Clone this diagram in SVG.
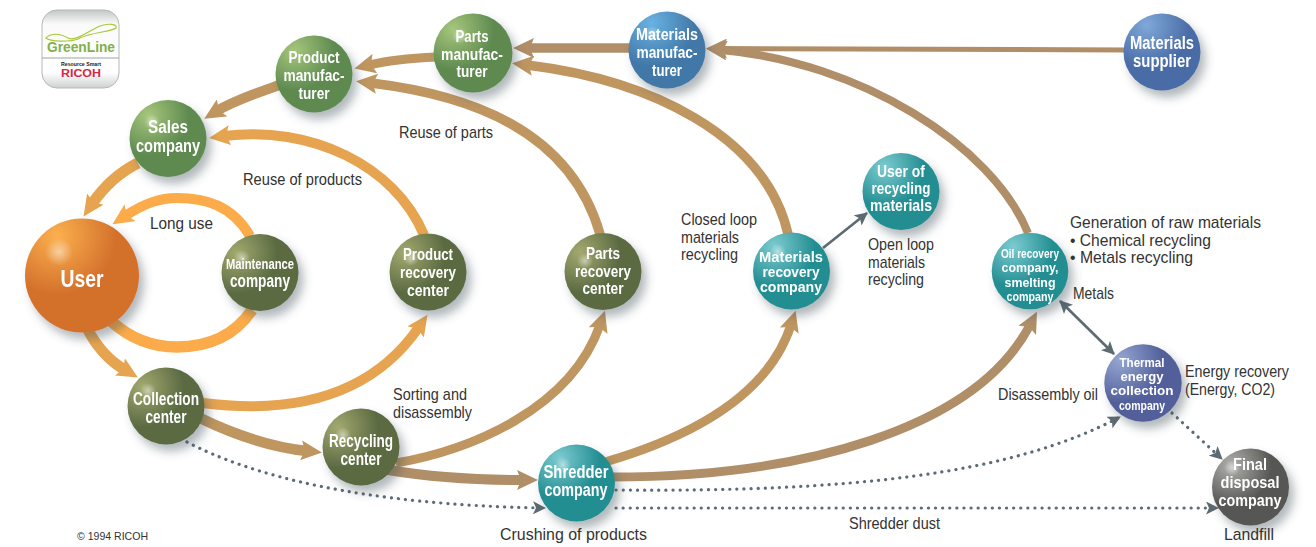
<svg xmlns="http://www.w3.org/2000/svg" width="1316" height="547" viewBox="0 0 1316 547">
<style>
text{font-family:"Liberation Sans",Arial,sans-serif}
.l{font-size:17px;fill:#333}
.n{font-size:18px;font-weight:bold;fill:#fff;text-anchor:middle}
.c{fill:none;stroke-linecap:butt}
.br{stroke:#bf9560}.bd{stroke:#b08e68}.or{stroke:#e6a450}.lo{stroke:#fbab4a}
.g{stroke:#5c6a72;stroke-width:2.6;fill:none}
.d{stroke:#5c6b75;stroke-width:3.2;stroke-linecap:round;stroke-dasharray:.1 7;fill:none}
.s{filter:url(#sh)}
.hl{fill:url(#hl)}
</style>
<defs>
<filter id="sh" x="-40%" y="-40%" width="190%" height="190%"><feDropShadow dx="5" dy="7" stdDeviation="5" flood-color="#40505a" flood-opacity=".4"/></filter>
<radialGradient id="hl"><stop offset="0" stop-color="#fff" stop-opacity=".5"/><stop offset="1" stop-color="#fff" stop-opacity="0"/></radialGradient>
<radialGradient id="gGreen" cx=".25" cy=".2" r=".65"><stop offset="0" stop-color="#a6c67c"/><stop offset=".8" stop-color="#5e8a50"/></radialGradient>
<radialGradient id="gOlive" cx=".2" cy=".25" r=".65"><stop offset="0" stop-color="#a3a96f"/><stop offset=".8" stop-color="#5b6b43"/></radialGradient>
<radialGradient id="gTeal" cx=".28" cy=".18" r=".65"><stop offset="0" stop-color="#7ccbd0"/><stop offset=".8" stop-color="#238e92"/></radialGradient>
<radialGradient id="gBlue" cx=".3" cy=".15" r=".7"><stop offset="0" stop-color="#68b2e2"/><stop offset=".8" stop-color="#4278a8"/></radialGradient>
<radialGradient id="gBlue2" cx=".3" cy=".15" r=".7"><stop offset="0" stop-color="#7fa8d8"/><stop offset=".8" stop-color="#4a6ca6"/></radialGradient>
<radialGradient id="gViolet" cx=".2" cy=".2" r=".7"><stop offset="0" stop-color="#95a6d2"/><stop offset=".8" stop-color="#525f9a"/></radialGradient>
<radialGradient id="gGrey" cx=".25" cy=".22" r=".65"><stop offset="0" stop-color="#b0b0ac"/><stop offset=".8" stop-color="#575755"/></radialGradient>
<radialGradient id="gOrange" cx=".28" cy=".15" r=".7"><stop offset="0" stop-color="#fbb04e"/><stop offset=".75" stop-color="#d3702b"/></radialGradient>
<linearGradient id="logoBg" x1="0" y1="0" x2="0" y2="1"><stop offset="0" stop-color="#c4c6c6"/><stop offset=".18" stop-color="#fafafa"/><stop offset=".8" stop-color="#fff"/><stop offset="1" stop-color="#cfd1d1"/></linearGradient>
<marker id="aB" markerUnits="userSpaceOnUse" markerWidth="22" markerHeight="20" refX="6" refY="10" orient="auto" viewBox="0 0 22 20"><path d="M0,0 L21,10 L0,20 L4,10Z" fill="#bf9560"/></marker>
<marker id="aD" markerUnits="userSpaceOnUse" markerWidth="22" markerHeight="20" refX="6" refY="10" orient="auto" viewBox="0 0 22 20"><path d="M0,0 L21,10 L0,20 L4,10Z" fill="#b08e68"/></marker>
<marker id="aO" markerUnits="userSpaceOnUse" markerWidth="22" markerHeight="20" refX="6" refY="10" orient="auto" viewBox="0 0 22 20"><path d="M0,0 L21,10 L0,20 L4,10Z" fill="#e6a450"/></marker>
<marker id="aL" markerUnits="userSpaceOnUse" markerWidth="22" markerHeight="20" refX="6" refY="10" orient="auto" viewBox="0 0 22 20"><path d="M0,0 L21,10 L0,20 L4,10Z" fill="#fbab4a"/></marker>
<marker id="aG" markerUnits="userSpaceOnUse" markerWidth="13" markerHeight="13" refX="12" refY="6.5" orient="auto-start-reverse" viewBox="0 0 13 13"><path d="M0,0 L13,6.5 L0,13 L3,6.5Z" fill="#5c6a72"/></marker>
</defs>

<g id="logo">
<rect x="42" y="10" width="77" height="78" rx="15" fill="url(#logoBg)" stroke="#b5b8b8"/>
<line x1="42" y1="58" x2="119" y2="58" stroke="#9aa4a4"/>
<path d="M46,38 C50,33 60,33 68,38 C76,42 90,30 100,26 C108,23 118,24 116,28 C112,32 90,32 78,39 C70,42 50,42 46,38Z" fill="none" stroke="#a8c93a" stroke-width="1.2"/>
<text x="81" y="52" font-size="14" font-weight="bold" fill="#82b04a" text-anchor="middle" textLength="68" lengthAdjust="spacingAndGlyphs">GreenLine</text>
<text x="81" y="66" font-size="5" font-weight="bold" fill="#222" text-anchor="middle" textLength="40" lengthAdjust="spacingAndGlyphs">Resource Smart</text>
<text x="81" y="77" font-size="10" font-weight="bold" fill="#d6264a" text-anchor="middle" textLength="40" lengthAdjust="spacingAndGlyphs">RICOH</text>
</g>

<g id="connectors">
<path class="c bd" stroke-width="5" marker-end="url(#aD)" d="M1126,50 L721,48.500"/>
<path class="c bd" stroke-width="9.500" marker-end="url(#aD)" d="M632,48 L528,48"/>
<path class="c br" stroke-width="9" marker-end="url(#aB)" d="M436,57 C415,58 390,60 369,65"/>
<path class="c br" stroke-width="10" marker-end="url(#aB)" d="M282,84 C260,92 235,100 217,111"/>
<path class="c or" stroke-width="11" marker-end="url(#aO)" d="M138,163 C120,172 105,185 92,204"/>
<path class="c or" stroke-width="11" marker-end="url(#aO)" d="M88,330 C97,347 108,360 125,370"/>
<path class="c lo" stroke-width="10" marker-end="url(#aL)" d="M250,236 C232,205 205,198 177,198 C160,198 145,203 125,216"/>
<path class="c lo" stroke-width="11.500" d="M112,322 C130,338 150,347 177,347 C210,347 235,335 252,310"/>
<path class="c or" stroke-width="10" marker-end="url(#aO)" d="M203,403 C290,414 370,398 419,327"/>
<path class="c or" stroke-width="10" marker-end="url(#aO)" d="M424,235 C395,165 310,125 224,136"/>
<path class="c br" stroke-width="10.500" marker-end="url(#aB)" d="M200,418 C235,435 270,447 307,451"/>
<path class="c bd" stroke-width="10" marker-end="url(#aD)" d="M388,470 C430,477 480,480 523,480"/>
<path class="c br" stroke-width="9" marker-end="url(#aB)" d="M396,463 C470,450 570,410 600,325"/>
<path class="c br" stroke-width="9.500" marker-end="url(#aB)" d="M600,234 C570,130 470,95 371,83"/>
<path class="c br" stroke-width="9" marker-end="url(#aB)" d="M605,462 C670,443 765,405 791,325"/>
<path class="c br" stroke-width="9.500" marker-end="url(#aB)" d="M788,234 C765,135 650,80 527,65"/>
<path class="c bd" stroke-width="9" marker-end="url(#aD)" d="M612,477 C800,477 975,430 1030,325"/>
<path class="c bd" stroke-width="8" marker-end="url(#aD)" d="M1028,233 C992,145 860,62 721,50"/>
<line class="g" x1="823" y1="248" x2="867" y2="213" marker-end="url(#aG)"/>
<line class="g" x1="1060" y1="301" x2="1114" y2="354" marker-start="url(#aG)" marker-end="url(#aG)"/>
<path class="d" marker-end="url(#aG)" d="M616,490 C850,492 1010,475 1120,417"/>
<path class="d" marker-end="url(#aG)" d="M1172,413 L1222,459"/>
<path class="d" marker-end="url(#aG)" d="M616,508 L1218,508"/>
<path class="d" marker-end="url(#aG)" d="M187,442 C250,475 360,505 545,508"/>
</g>

<g id="user" class="s"><circle cx="82" cy="275.500" r="57" fill="url(#gOrange)"/><circle class="hl" cx="59" cy="252" r="14"/><text x="82" y="287" class="n" style="font-size:24px" textLength="43" lengthAdjust="spacingAndGlyphs">User</text></g>
<g id="sales" class="s"><circle cx="168" cy="138.500" r="38.500" fill="url(#gGreen)"/><circle class="hl" cx="152" cy="122" r="8"/><text x="168" y="133" class="n" textLength="40" lengthAdjust="spacingAndGlyphs">Sales</text><text x="168" y="152" class="n" textLength="64" lengthAdjust="spacingAndGlyphs">company</text></g>
<g id="product-manufacturer" class="s"><circle cx="314" cy="74" r="38.500" fill="url(#gGreen)"/><text x="314" y="63" class="n" style="font-size:17px" textLength="51" lengthAdjust="spacingAndGlyphs">Product</text><text x="314" y="81" class="n" style="font-size:17px" textLength="61" lengthAdjust="spacingAndGlyphs">manufac-</text><text x="314" y="99" class="n" style="font-size:17px" textLength="31" lengthAdjust="spacingAndGlyphs">turer</text></g>
<g id="parts-manufacturer" class="s"><circle cx="473" cy="53" r="39.500" fill="url(#gGreen)"/><circle class="hl" cx="460" cy="36" r="8"/><text x="472" y="42" class="n" style="font-size:17px" textLength="33" lengthAdjust="spacingAndGlyphs">Parts</text><text x="472" y="60" class="n" style="font-size:17px" textLength="62" lengthAdjust="spacingAndGlyphs">manufac-</text><text x="472" y="77" class="n" style="font-size:17px" textLength="31" lengthAdjust="spacingAndGlyphs">turer</text></g>
<g id="materials-manufacturer" class="s"><circle cx="667" cy="50" r="38.500" fill="url(#gBlue)"/><circle class="hl" cx="652" cy="34" r="8"/><text x="667" y="40" class="n" style="font-size:17px" textLength="62" lengthAdjust="spacingAndGlyphs">Materials</text><text x="667" y="58" class="n" style="font-size:17px" textLength="61" lengthAdjust="spacingAndGlyphs">manufac-</text><text x="667" y="76" class="n" style="font-size:17px" textLength="30" lengthAdjust="spacingAndGlyphs">turer</text></g>
<g id="materials-supplier" class="s"><circle cx="1162" cy="52" r="38.500" fill="url(#gBlue2)"/><text x="1162" y="49" class="n" textLength="64" lengthAdjust="spacingAndGlyphs">Materials</text><text x="1162" y="67" class="n" textLength="58" lengthAdjust="spacingAndGlyphs">supplier</text></g>
<g id="maintenance" class="s"><circle cx="260" cy="272.500" r="38.500" fill="url(#gOlive)"/><circle class="hl" cx="242" cy="258" r="8"/><text x="260" y="269" class="n" style="font-size:15px" textLength="68" lengthAdjust="spacingAndGlyphs">Maintenance</text><text x="260" y="287" class="n" textLength="60" lengthAdjust="spacingAndGlyphs">company</text></g>
<g id="product-recovery" class="s"><circle cx="428" cy="272" r="38.500" fill="url(#gOlive)"/><circle class="hl" cx="411" cy="258" r="8"/><text x="428" y="260" class="n" style="font-size:17px" textLength="50" lengthAdjust="spacingAndGlyphs">Product</text><text x="428" y="278" class="n" style="font-size:17px" textLength="56" lengthAdjust="spacingAndGlyphs">recovery</text><text x="428" y="296" class="n" style="font-size:17px" textLength="42" lengthAdjust="spacingAndGlyphs">center</text></g>
<g id="parts-recovery" class="s"><circle cx="603" cy="271.500" r="38.500" fill="url(#gOlive)"/><circle class="hl" cx="585" cy="261" r="8"/><text x="603" y="259" class="n" style="font-size:17px" textLength="34" lengthAdjust="spacingAndGlyphs">Parts</text><text x="603" y="276.500" class="n" style="font-size:17px" textLength="56" lengthAdjust="spacingAndGlyphs">recovery</text><text x="603" y="294" class="n" style="font-size:17px" textLength="41" lengthAdjust="spacingAndGlyphs">center</text></g>
<g id="materials-recovery" class="s"><circle cx="791.500" cy="271" r="38.500" fill="url(#gTeal)"/><circle class="hl" cx="778" cy="252" r="8"/><text x="791" y="262" class="n" style="font-size:15px" textLength="64" lengthAdjust="spacingAndGlyphs">Materials</text><text x="791" y="277" class="n" style="font-size:14.500px" textLength="57" lengthAdjust="spacingAndGlyphs">recovery</text><text x="791" y="292" class="n" style="font-size:14.500px" textLength="62" lengthAdjust="spacingAndGlyphs">company</text></g>
<g id="user-of-recycling" class="s"><circle cx="901" cy="191.500" r="38.500" fill="url(#gTeal)"/><text x="901" y="177" class="n" style="font-size:17px" textLength="48" lengthAdjust="spacingAndGlyphs">User of</text><text x="901" y="194" class="n" style="font-size:17px" textLength="59" lengthAdjust="spacingAndGlyphs">recycling</text><text x="901" y="211" class="n" style="font-size:17px" textLength="62" lengthAdjust="spacingAndGlyphs">materials</text></g>
<g id="oil-recovery" class="s"><circle cx="1030" cy="271" r="38.300" fill="url(#gTeal)"/><text x="1030" y="258" class="n" style="font-size:13px" textLength="58" lengthAdjust="spacingAndGlyphs">Oil recovery</text><text x="1030" y="272" class="n" style="font-size:13px" textLength="57" lengthAdjust="spacingAndGlyphs">company,</text><text x="1030" y="286.500" class="n" style="font-size:13px" textLength="51" lengthAdjust="spacingAndGlyphs">smelting</text><text x="1030" y="301" class="n" style="font-size:13px" textLength="47" lengthAdjust="spacingAndGlyphs">company</text></g>
<g id="collection" class="s"><circle cx="166" cy="406" r="38.500" fill="url(#gOlive)"/><circle class="hl" cx="148" cy="391" r="8"/><text x="166" y="405" class="n" textLength="66" lengthAdjust="spacingAndGlyphs">Collection</text><text x="166" y="423" class="n" textLength="41" lengthAdjust="spacingAndGlyphs">center</text></g>
<g id="recycling" class="s"><circle cx="361" cy="447" r="38.500" fill="url(#gOlive)"/><circle class="hl" cx="343" cy="435" r="8"/><text x="361" y="447" class="n" textLength="64" lengthAdjust="spacingAndGlyphs">Recycling</text><text x="361" y="465" class="n" textLength="41" lengthAdjust="spacingAndGlyphs">center</text></g>
<g id="shredder" class="s"><circle cx="576.500" cy="483" r="38.500" fill="url(#gTeal)"/><circle class="hl" cx="563" cy="465" r="8"/><text x="576" y="478" class="n" textLength="65" lengthAdjust="spacingAndGlyphs">Shredder</text><text x="576" y="496" class="n" textLength="63" lengthAdjust="spacingAndGlyphs">company</text></g>
<g id="thermal" class="s"><circle cx="1143" cy="383" r="38.700" fill="url(#gViolet)"/><text x="1142" y="367" class="n" style="font-size:13px" textLength="45" lengthAdjust="spacingAndGlyphs">Thermal</text><text x="1142" y="381" class="n" style="font-size:13px" textLength="43" lengthAdjust="spacingAndGlyphs">energy</text><text x="1142" y="395" class="n" style="font-size:13.500px" textLength="63" lengthAdjust="spacingAndGlyphs">collection</text><text x="1142" y="409.500" class="n" style="font-size:13px" textLength="46" lengthAdjust="spacingAndGlyphs">company</text></g>
<g id="final-disposal" class="s"><circle cx="1250.500" cy="487" r="38.500" fill="url(#gGrey)"/><circle class="hl" cx="1232" cy="468" r="8"/><text x="1250" y="470" class="n" style="font-size:17px" textLength="34" lengthAdjust="spacingAndGlyphs">Final</text><text x="1250" y="488" class="n" style="font-size:17px" textLength="59" lengthAdjust="spacingAndGlyphs">disposal</text><text x="1250" y="505.500" class="n" style="font-size:17px" textLength="63" lengthAdjust="spacingAndGlyphs">company</text></g>

<g id="labels">
<text class="l" x="150" y="229" textLength="63" lengthAdjust="spacingAndGlyphs">Long use</text>
<text class="l" x="243" y="185" textLength="119" lengthAdjust="spacingAndGlyphs">Reuse of products</text>
<text class="l" x="399" y="138" textLength="94" lengthAdjust="spacingAndGlyphs">Reuse of parts</text>
<text class="l" x="393" y="400" textLength="74" lengthAdjust="spacingAndGlyphs">Sorting and</text>
<text class="l" x="393" y="418" textLength="79" lengthAdjust="spacingAndGlyphs">disassembly</text>
<text class="l" x="681" y="225" textLength="76" lengthAdjust="spacingAndGlyphs">Closed loop</text>
<text class="l" x="681" y="243" textLength="58" lengthAdjust="spacingAndGlyphs">materials</text>
<text class="l" x="681" y="260" textLength="57" lengthAdjust="spacingAndGlyphs">recycling</text>
<text class="l" x="868" y="250" textLength="66" lengthAdjust="spacingAndGlyphs">Open loop</text>
<text class="l" x="868" y="268" textLength="57" lengthAdjust="spacingAndGlyphs">materials</text>
<text class="l" x="868" y="285" textLength="56" lengthAdjust="spacingAndGlyphs">recycling</text>
<text class="l" x="1070" y="228" textLength="191" lengthAdjust="spacingAndGlyphs">Generation of raw materials</text>
<text class="l" x="1070" y="246" textLength="141" lengthAdjust="spacingAndGlyphs">• Chemical recycling</text>
<text class="l" x="1070" y="263" textLength="123" lengthAdjust="spacingAndGlyphs">• Metals recycling</text>
<text class="l" x="1073" y="299" textLength="41" lengthAdjust="spacingAndGlyphs">Metals</text>
<text class="l" x="998" y="400" textLength="100" lengthAdjust="spacingAndGlyphs">Disassembly oil</text>
<text class="l" x="1185" y="377" textLength="104" lengthAdjust="spacingAndGlyphs">Energy recovery</text>
<text class="l" x="1185" y="395" textLength="90" lengthAdjust="spacingAndGlyphs">(Energy, CO2)</text>
<text class="l" x="500" y="540" textLength="147" lengthAdjust="spacingAndGlyphs">Crushing of products</text>
<text class="l" x="849" y="529" textLength="91" lengthAdjust="spacingAndGlyphs">Shredder dust</text>
<text class="l" x="1224" y="540" textLength="50" lengthAdjust="spacingAndGlyphs">Landfill</text>
<text class="l" x="77" y="540" style="font-size:11px" textLength="71" lengthAdjust="spacingAndGlyphs">© 1994 RICOH</text>
</g>
</svg>
